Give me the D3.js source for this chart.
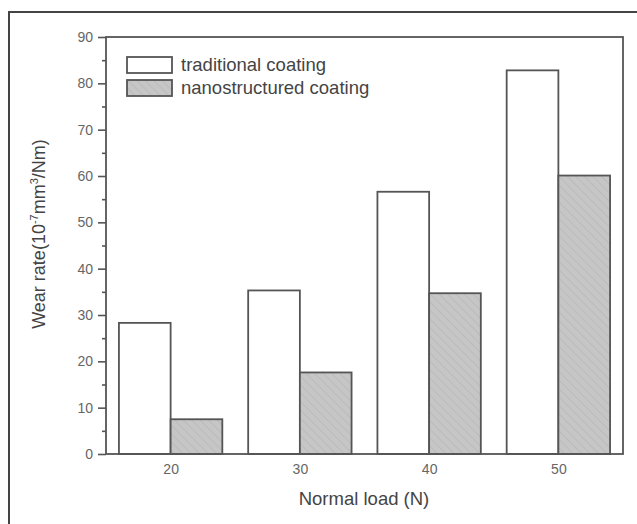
<!DOCTYPE html>
<html>
<head>
<meta charset="UTF-8">
<script src="https://d3js.org/d3.v7.min.js"></script>
<style>
  html, body { margin: 0; padding: 0; background: #fff; }
  svg { display: block; font-family: Arial, "Liberation Sans", sans-serif; }
</style>
</head>
<body>
<svg id="chart" width="637" height="524"></svg>
<script>
// --- data ---
const loads = [20, 30, 40, 50];
const traditional = [28.3, 35.3, 56.6, 82.8];
const nano = [7.5, 17.6, 34.7, 60.1];
const yTicks = [0, 10, 20, 30, 40, 50, 60, 70, 80, 90];
const seriesNames = ["traditional coating", "nanostructured coating"];

const svg = d3.select("#chart");
const plotL = 106, plotR = 623, plotT = 37, plotB = 454;

const x = d3.scaleLinear().domain([15, 55]).range([plotL, plotR]);
const y = d3.scaleLinear().domain([0, 90]).range([plotB, plotT]);
const barW = 4; // in x units

// hatch pattern for nanostructured bars
const defs = svg.append("defs");
const pat = defs.append("pattern")
  .attr("id", "hatch").attr("patternUnits", "userSpaceOnUse")
  .attr("width", 6).attr("height", 6)
  .attr("patternTransform", "rotate(-45)");
pat.append("rect").attr("width", 6).attr("height", 6).attr("fill", "#c6c6c6");
pat.append("line").attr("x1", 0).attr("y1", 0).attr("x2", 0).attr("y2", 6)
  .attr("stroke", "#b4b4b4").attr("stroke-width", 1.2);

// outer frame (cropped at right/bottom)
svg.append("path").attr("d", "M9,530 L9,12 L640,12")
  .attr("fill", "none").attr("stroke", "#444").attr("stroke-width", 2);

// bars
svg.append("g").selectAll("rect").data(loads).join("rect")
  .attr("x", d => x(d - barW)).attr("width", d => x(d) - x(d - barW))
  .attr("y", (d, i) => y(traditional[i])).attr("height", (d, i) => y(0) - y(traditional[i]))
  .attr("fill", "#fff").attr("stroke", "#555").attr("stroke-width", 1.8);
svg.append("g").selectAll("rect").data(loads).join("rect")
  .attr("x", d => x(d)).attr("width", d => x(d + barW) - x(d))
  .attr("y", (d, i) => y(nano[i])).attr("height", (d, i) => y(0) - y(nano[i]))
  .attr("fill", "url(#hatch)").attr("stroke", "#555").attr("stroke-width", 1.8);

// plot box
svg.append("rect").attr("x", plotL).attr("y", plotT)
  .attr("width", plotR - plotL).attr("height", plotB - plotT)
  .attr("fill", "none").attr("stroke", "#555").attr("stroke-width", 1.8);

// y axis
const yAxis = svg.append("g").attr("transform", `translate(${plotL},0)`)
  .call(d3.axisLeft(y).tickValues(yTicks).tickSize(8).tickPadding(5));
yAxis.select(".domain").remove();
yAxis.selectAll("line").attr("stroke", "#555").attr("stroke-width", 1.6);
yAxis.selectAll("text").attr("fill", "#666").style("font-size", "14px");
svg.append("g").attr("transform", `translate(${plotL},0)`)
  .call(d3.axisLeft(y).tickValues(d3.range(5, 90, 10)).tickSize(4).tickFormat(""))
  .call(g => g.select(".domain").remove())
  .selectAll("line").attr("stroke", "#555").attr("stroke-width", 1.6);

// x axis labels
const xAxis = svg.append("g").attr("transform", `translate(0,${plotB})`)
  .call(d3.axisBottom(x).tickValues(loads).tickSize(0).tickPadding(10));
xAxis.select(".domain").remove();
xAxis.selectAll("text").attr("fill", "#666").style("font-size", "14px");

// axis titles
svg.append("text").attr("x", 364).attr("y", 505).attr("text-anchor", "middle")
  .attr("fill", "#444").style("font-size", "18.5px").text("Normal load (N)");
const yt = svg.append("text").attr("transform", "translate(45,234) rotate(-90)")
  .attr("text-anchor", "middle").attr("fill", "#444").style("font-size", "18px");
yt.append("tspan").text("Wear rate(10");
yt.append("tspan").attr("dy", -7).style("font-size", "11px").text("-7");
yt.append("tspan").attr("dy", 7).text("mm");
yt.append("tspan").attr("dy", -7).style("font-size", "11px").text("3");
yt.append("tspan").attr("dy", 7).text("/Nm)");

// legend
const fills = ["#fff", "url(#hatch)"];
const leg = svg.append("g").selectAll("g").data(seriesNames).join("g")
  .attr("transform", (d, i) => `translate(127,${57 + i * 23})`);
leg.append("rect").attr("width", 45).attr("height", 16)
  .attr("fill", (d, i) => fills[i]).attr("stroke", "#555").attr("stroke-width", 1.8);
leg.append("text").attr("x", 54).attr("y", 14).attr("fill", "#444")
  .style("font-size", "18.5px").text(d => d);
</script>
</body>
</html>
